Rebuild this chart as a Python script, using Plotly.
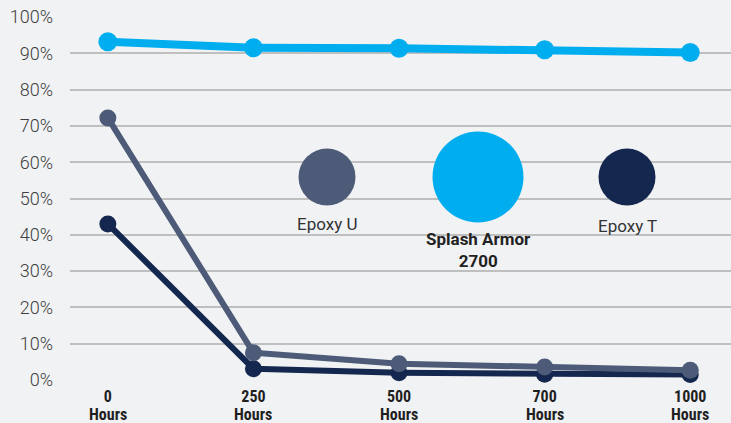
import plotly.graph_objects as go

categories = ["0", "250", "500", "700", "1000"]
unit_label = "Hours"
splash_armor = [93.2, 91.5, 91.4, 91.0, 90.2]
epoxy_u = [72.2, 7.5, 4.5, 3.6, 2.7]
epoxy_t = [43.0, 3.1, 2.0, 1.6, 1.5]
y_ticks = [0, 10, 20, 30, 40, 50, 60, 70, 80, 90, 100]

C_SPLASH = "#00AEEF"
C_U = "#4D5B78"
C_T = "#14274E"
BG = "#F1F2F4"
XFONT = dict(family="Liberation Sans Narrow, Roboto Condensed, Roboto", size=16,
             color="#1f1f1f", weight="bold")

fig = go.Figure()
fig.add_trace(go.Scatter(x=categories, y=epoxy_t, mode="lines+markers", name="Epoxy T",
                         line=dict(color=C_T, width=6), marker=dict(size=17, color=C_T),
                         cliponaxis=False))
fig.add_trace(go.Scatter(x=categories, y=epoxy_u, mode="lines+markers", name="Epoxy U",
                         line=dict(color=C_U, width=6), marker=dict(size=17, color=C_U),
                         cliponaxis=False))
fig.add_trace(go.Scatter(x=categories, y=splash_armor, mode="lines+markers", name="Splash Armor 2700",
                         line=dict(color=C_SPLASH, width=8), marker=dict(size=19, color=C_SPLASH),
                         cliponaxis=False))

W, H = 731, 423
L, R, T, B = 70, 0, 17, 43
pw, ph = W - L - R, H - T - B

def px(x):
    return (x - L) / pw

def py(y):
    return (H - B - y) / ph

legend_items = [
    ("Epoxy U", C_U, 327, 177, 28.5, 224, False),
    ("Splash Armor<br>2700", C_SPLASH, 478, 177, 45.5, 250, True),
    ("Epoxy T", C_T, 627, 177, 28.5, 226, False),
]
shapes = []
annotations = []
for label, col, cx, cy, r, ly, bold in legend_items:
    shapes.append(dict(type="circle", xref="paper", yref="paper",
                       x0=px(cx - r), x1=px(cx + r), y0=py(cy + r), y1=py(cy - r),
                       fillcolor=col, line=dict(width=0), layer="above"))
    annotations.append(dict(text=("<b>%s</b>" % label) if bold else label,
                            xref="paper", yref="paper", x=px(cx), y=py(ly),
                            xanchor="center", yanchor="middle", showarrow=False,
                            font=dict(family="Roboto", size=17, color="#222222" if bold else "#333333")))

# second line of each x tick label
for i, c in enumerate(categories):
    annotations.append(dict(text=unit_label, xref="x", yref="paper", x=i, y=py(414),
                            xanchor="center", yanchor="middle", showarrow=False, font=XFONT))

fig.update_layout(
    width=W, height=H,
    margin=dict(l=L, r=R, t=T, b=B, pad=0),
    paper_bgcolor=BG, plot_bgcolor=BG,
    showlegend=False,
    shapes=shapes, annotations=annotations,
    xaxis=dict(type="category", range=[-0.26, 4.28], tickmode="array",
               tickvals=categories, ticktext=categories, showgrid=False, zeroline=False,
               showline=False, ticks="", ticklen=0, ticklabelstandoff=5,
               tickfont=XFONT),
    yaxis=dict(range=[0, 100], tickmode="array", tickvals=y_ticks,
               ticktext=["%d%%" % v for v in y_ticks], showgrid=True, gridcolor="#BFBFBF",
               gridwidth=2, zeroline=False, showline=False, ticks="", ticklabelstandoff=16,
               tickfont=dict(family="Roboto", size=18, color="#404040", weight=300)),
)

fig.write_html("out.html", config={"displayModeBar": False},
               post_script="document.body.style.margin='0';document.body.style.overflow='hidden';")
